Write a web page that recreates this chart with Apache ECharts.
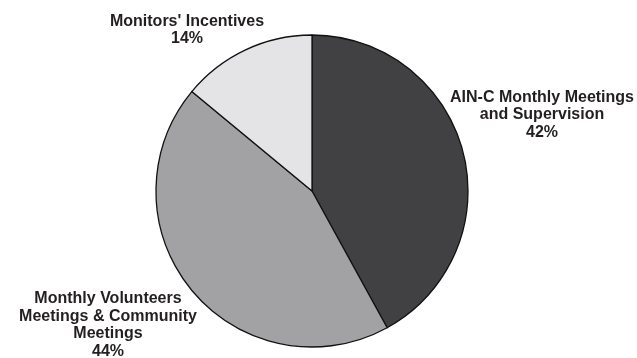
<!DOCTYPE html>
<html><head><meta charset="utf-8">
<script src="https://cdn.jsdelivr.net/npm/echarts@6/dist/echarts.min.js"></script>
<style>html,body{margin:0;padding:0;background:#fff}#c{width:637px;height:358px}</style>
</head><body><div id="c"></div>
<script>
const categories = ["AIN-C Monthly Meetings\nand Supervision", "Monthly Volunteers\nMeetings & Community\nMeetings", "Monitors' Incentives"];
const values = [42, 44, 14];
const colors = ["#414143", "#a2a2a4", "#e4e4e6"];
const labelPos = [[542, 115], [108, 325], [187, 30]];

const chart = echarts.init(document.getElementById('c'), null, {renderer: 'canvas'});
chart.setOption({
  animation: false,
  series: [{
    type: 'pie',
    center: [312, 191],
    radius: 156,
    startAngle: 90,
    clockwise: true,
    data: categories.map((n, i) => ({name: n, value: values[i], itemStyle: {color: colors[i]}})),
    itemStyle: {borderColor: '#111', borderWidth: 1.3},
    label: {
      show: true,
      position: 'outside',
      formatter: p => p.name + '\n' + p.value + '%',
      fontFamily: 'Liberation Sans, Arial, sans-serif',
      fontWeight: 'bold',
      fontSize: 16,
      lineHeight: 17.5,
      color: '#231f20',
      align: 'center',
      overflow: 'none',
      width: 260
    },
    labelLine: {show: false},
    labelLayout: function (p) {
      const pos = labelPos[p.dataIndex];
      return {x: pos[0], y: pos[1], align: 'center', verticalAlign: 'middle', hideOverlap: false, moveOverlap: false};
    },
    emphasis: {disabled: true}
  }]
});
</script></body></html>
